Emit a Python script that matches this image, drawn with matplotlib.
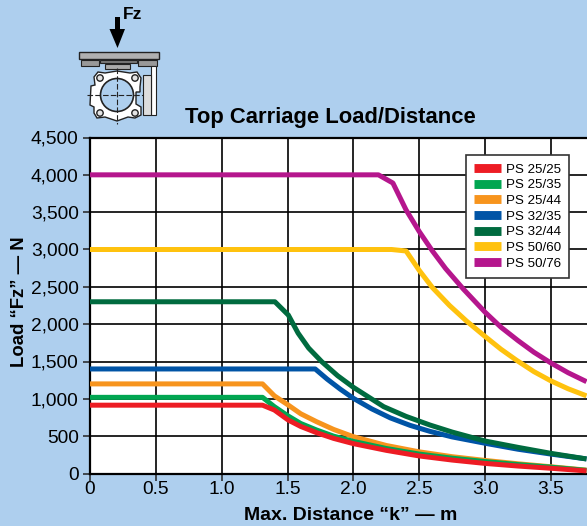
import matplotlib
matplotlib.use("Agg")
import matplotlib.pyplot as plt
from matplotlib.patches import Rectangle, Circle, Polygon
from matplotlib.lines import Line2D

plt.rcParams['font.family'] = ['Liberation Sans', 'DejaVu Sans']

W, H = 587, 526
BG = '#AECFEE'

series_names = ['PS 25/25', 'PS 25/35', 'PS 25/44', 'PS 32/35', 'PS 32/44', 'PS 50/60', 'PS 50/76']
series_colors = ['#ED1C24', '#00A651', '#F7941D', '#0054A6', '#006B3F', '#FFC20E', '#B5168D']

x_2525 = [0, 1.31, 1.40, 1.505, 1.6, 1.72, 1.85, 2.0, 2.25, 2.5, 2.75, 3.0, 3.25, 3.5, 3.77]
y_2525 = [915, 915, 850, 716, 630, 547, 470, 400, 310, 235, 180, 135, 100, 70, 35]
x_2535 = [0, 1.31, 1.40, 1.505, 1.6, 1.72, 1.85, 2.0, 2.25, 2.5, 2.75, 3.0, 3.25, 3.5, 3.77]
y_2535 = [1020, 1020, 895, 770, 670, 583, 500, 430, 335, 260, 205, 160, 120, 85, 42]
x_2544 = [0, 1.31, 1.40, 1.505, 1.6, 1.72, 1.85, 2.0, 2.25, 2.5, 2.75, 3.0, 3.25, 3.5, 3.77]
y_2544 = [1200, 1200, 1040, 917, 800, 694, 590, 493, 375, 290, 225, 175, 130, 90, 45]
x_3235 = [0, 1.71, 1.8, 1.9, 2.0, 2.14, 2.28, 2.43, 2.58, 2.75, 3.0, 3.25, 3.5, 3.77]
y_3235 = [1400, 1400, 1265, 1130, 1007, 865, 745, 645, 565, 490, 405, 325, 260, 195]
x_3244 = [0, 1.404, 1.506, 1.58, 1.66, 1.76, 1.88, 2.0, 2.23, 2.4, 2.58, 2.75, 3.0, 3.25, 3.5, 3.77]
y_3244 = [2300, 2300, 2122, 1880, 1680, 1497, 1310, 1154, 895, 765, 650, 555, 435, 350, 270, 195]
x_5060 = [0, 2.29, 2.40, 2.5, 2.6, 2.73, 2.86, 3.0, 3.12, 3.24, 3.37, 3.5, 3.63, 3.77]
y_5060 = [3000, 3000, 2980, 2720, 2490, 2250, 2040, 1835, 1665, 1515, 1365, 1240, 1135, 1040]
x_5076 = [0, 2.19, 2.30, 2.4, 2.5, 2.6, 2.7, 2.835, 3.0, 3.12, 3.25, 3.37, 3.5, 3.63, 3.77]
y_5076 = [4000, 4000, 3890, 3530, 3240, 2980, 2745, 2470, 2160, 1960, 1780, 1625, 1480, 1350, 1230]

curves = [(x_2525, y_2525), (x_2535, y_2535), (x_2544, y_2544), (x_3235, y_3235),
          (x_3244, y_3244), (x_5060, y_5060), (x_5076, y_5076)]

x_ticks = [0, 0.5, 1.0, 1.5, 2.0, 2.5, 3.0, 3.5]
x_labels = ['0', '0.5', '1.0', '1.5', '2.0', '2.5', '3.0', '3.5']
y_ticks = [0, 500, 1000, 1500, 2000, 2500, 3000, 3500, 4000, 4500]
y_labels = ['0', '500', '1,000', '1,500', '2,000', '2,500', '3,000', '3,500', '4,000', '4,500']

fig = plt.figure(figsize=(W / 100, H / 100), dpi=100, facecolor=BG)
L, R, T, B = 90, 587, 137.5, 473.5
ax = fig.add_axes([L / W, 1 - B / H, (R - L) / W, (B - T) / H], facecolor='white')
ax.set_xlim(0, (R - L) / 131.7)
ax.set_ylim(0, 4500)
ax.set_xticks(x_ticks, x_labels)
ax.set_yticks(y_ticks, y_labels)
ax.tick_params(axis='both', labelsize=13.8, length=5, width=1.1, color='#222222')
ax.tick_params(axis='x', pad=0.5)
ax.tick_params(axis='y', pad=3.2)
ax.grid(True, color='black', lw=1.2)
ax.set_axisbelow(True)
for s in ['left', 'bottom', 'top']:
    ax.spines[s].set_linewidth(1.6)
    ax.spines[s].set_color('black')
ax.spines['right'].set_visible(False)

order = [3, 4, 2, 1, 0, 5, 6]
for i in order:
    xs, ys = curves[i]
    ax.plot(xs, ys, color=series_colors[i], lw=3.6, solid_joinstyle='round',
            solid_capstyle='butt', zorder=3)

handles = [Line2D([0], [0], color=c, lw=6.4, solid_capstyle='butt') for c in series_colors]
leg = ax.legend(handles, series_names, loc='upper left',
                bbox_to_anchor=((465.5 - L) / (R - L), 1 - (155 - T) / (B - T)),
                frameon=True, fancybox=False, edgecolor='#333333', framealpha=1,
                fontsize=9.6, handlelength=2.03, handletextpad=0.38, labelspacing=0.25,
                borderaxespad=0, borderpad=0.62)
leg.get_frame().set_linewidth(1.2)
leg.set_zorder(5)

ax.set_xlabel('Max. Distance \u201ck\u201d \u2014 m', fontsize=14, fontweight='bold', va='center')
ax.xaxis.set_label_coords((351 - L) / (R - L), (B - 516) / (B - T))
ax.set_ylabel('Load \u201cFz\u201d \u2014 N', fontsize=13.3, fontweight='bold', va='center')
ax.yaxis.set_label_coords((20 - L) / (R - L), (B - 302) / (B - T))
fig.text(330 / W, 1 - 117.5 / H, 'Top Carriage Load/Distance', fontsize=15.8, fontweight='bold',
         ha='center', va='center')

ic = fig.add_axes([0, 0, 1, 1], facecolor='none')
ic.set_xlim(0, W)
ic.set_ylim(H, 0)
ic.axis('off')
ec = '#222222'
ic.add_patch(Polygon([[115, 17], [120, 17], [120, 29], [125, 29], [117.5, 48], [109.5, 29], [115, 29]], fc='black', ec='none'))
ic.text(123, 14.5, 'Fz', fontsize=12.5, fontweight='bold', va='center', ha='left')
ic.add_patch(Rectangle((79, 52), 80, 7, fc='#B0B0B0', ec=ec, lw=1))
ic.add_patch(Rectangle((81, 60), 18, 6, fc='#999999', ec=ec, lw=0.8))
ic.add_patch(Rectangle((138, 60), 19, 6, fc='#999999', ec=ec, lw=0.8))
ic.add_patch(Rectangle((100, 60), 37, 3, fc='#777777', ec=ec, lw=0.8))
ic.add_patch(Rectangle((105, 64), 25, 5, fc='#AAAAAA', ec=ec, lw=0.8))
ic.add_patch(Rectangle((151, 66), 5, 49, fc='white', ec=ec, lw=0.8))
ic.add_patch(Rectangle((143, 75), 8, 40, fc='#DDDDDD', ec=ec, lw=0.8))
ic.add_patch(Polygon([[98, 72], [105, 73], [117, 71], [130, 73], [137, 72], [141, 78], [140, 87],
                      [140, 92], [136, 92], [136, 104], [141, 107], [141, 115],
                      [135, 118], [128, 117], [117, 121], [105, 117], [97, 118], [94, 113],
                      [94, 107], [90, 105], [91, 86], [95, 85], [94, 77]],
                     fc='white', ec=ec, lw=1))
ic.add_patch(Circle((117, 95), 16.5, fc=BG, ec=ec, lw=1.2))
for cx, cy in [(100, 78), (135, 78), (100, 113), (135, 113)]:
    ic.add_patch(Circle((cx, cy), 3.2, fc='#E4E4E4', ec=ec, lw=1))
ic.plot([117, 117], [68, 124], color=ec, lw=0.8, ls=(0, (5, 2)))
ic.plot([87, 143], [95, 95], color=ec, lw=0.8, ls=(0, (5, 2)))

fig.savefig('out.png', dpi=100, facecolor=BG)
